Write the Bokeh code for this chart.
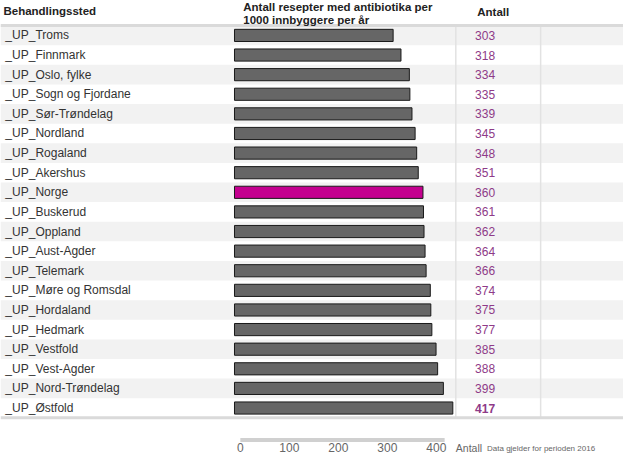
from bokeh.plotting import figure
from bokeh.models import Range1d, ColumnDataSource
from bokeh.core.properties import value
from bokeh.embed import file_html
from bokeh.resources import INLINE

# ---- data ----
categories = ["_UP_Troms", "_UP_Finnmark", "_UP_Oslo, fylke", "_UP_Sogn og Fjordane",
              "_UP_Sør-Trøndelag", "_UP_Nordland", "_UP_Rogaland", "_UP_Akershus",
              "_UP_Norge", "_UP_Buskerud", "_UP_Oppland", "_UP_Aust-Agder",
              "_UP_Telemark", "_UP_Møre og Romsdal", "_UP_Hordaland", "_UP_Hedmark",
              "_UP_Vestfold", "_UP_Vest-Agder", "_UP_Nord-Trøndelag", "_UP_Østfold"]
values = [303, 318, 334, 335, 339, 345, 348, 351, 360, 361,
          362, 364, 366, 374, 375, 377, 385, 388, 399, 417]
highlight = "_UP_Norge"
axis_ticks = [0, 100, 200, 300, 400]
axis_end = 417
col_header = "Behandlingssted"
bar_header = ["Antall resepter med antibiotika per", "1000 innbyggere per år"]
val_header = "Antall"
footer_unit = "Antall"
footer_note = "Data gjelder for perioden  2016"

# ---- layout helpers (reference pixel -> data units) ----
BAR0, BSCALE = 240.0, 0.537      # bar origin and px per unit (reference px)
AX0, ASCALE = 246.0, 0.5025      # axis origin and px per unit
ROW0, ROWH = 36.15, 20.3         # first row centre and row height (reference px)
def xd(px):
    return (px - BAR0) / BSCALE
def yd(py):
    return (py - ROW0) / ROWH

W, H = 623, 455
FONT = "Liberation Sans"

p = figure(width=W, height=H, output_backend="svg", toolbar_location=None,
           x_range=Range1d(xd(0), xd(639)), y_range=Range1d(yd(471), yd(0)),
           min_border=0)
p.xaxis.visible = False
p.yaxis.visible = False
p.grid.visible = False
p.outline_line_color = None
p.background_fill_color = "white"
p.border_fill_color = "white"

n = len(categories)
rows = list(range(n))

# row backgrounds (alternating)
bg_rows = [i for i in rows if i % 2 == 0]
p.hbar(y=bg_rows, left=xd(0), right=xd(639), height=1.0, fill_color="#f2f2f2", line_color=None)

# column separators
p.segment(x0=[xd(467), xd(554)], x1=[xd(467), xd(554)], y0=[-0.5, -0.5], y1=[n - 0.5, n - 0.5],
          line_color="#e2e2e2", line_width=1.5)
# header / bottom rules
p.segment(x0=[xd(0), xd(0)], x1=[xd(639), xd(639)], y0=[-0.5, n - 0.5], y1=[-0.5, n - 0.5],
          line_color="#dadada", line_width=3)

# bars
vmax = max(values)
fills = ["#c4008f" if c == highlight else "#666666" for c in categories]
styles = ["bold" if v == vmax else "normal" for v in values]
src = ColumnDataSource(dict(y=rows, v=values, fill=fills, cat=categories, sty=styles,
                            lab=[str(v) for v in values]))
p.hbar(y="y", left=0, right="v", height=0.62, fill_color="fill", line_color="#1a1a1a",
       line_width=1, source=src)

# category labels
p.text(x=xd(5), y="y", text="cat", source=src, text_font=value(FONT), text_font_size="12px",
       text_color="#333333", text_baseline="middle", text_align="left")
# value labels
p.text(x=xd(497), y="y", text="lab", source=src, text_font=value(FONT), text_font_size="12px",
       text_font_style="sty", text_color="#8e3a88", text_baseline="middle", text_align="center")

# headers
p.text(x=[xd(3)], y=[yd(11)], text=[col_header], text_font=value(FONT), text_font_size="11.5px",
       text_font_style="bold", text_color="#222222", text_baseline="middle")
p.text(x=[xd(249), xd(249)], y=[yd(7), yd(20.5)], text=bar_header, text_font=value(FONT),
       text_font_size="11.5px", text_font_style="bold", text_color="#222222", text_baseline="middle")
p.text(x=[xd(489)], y=[yd(12)], text=[val_header], text_font=value(FONT), text_font_size="11.5px",
       text_font_style="bold", text_color="#222222", text_baseline="middle")

# axis (drawn through its own range)
p.extra_x_ranges["ax"] = Range1d((0 - AX0) / ASCALE, (639 - AX0) / ASCALE)
p.segment(x0=[0], x1=[axis_end], y0=[yd(455)], y1=[yd(455)], line_color="#d0d0d0",
          line_width=4, x_range_name="ax")
p.text(x=axis_ticks, y=[yd(463)] * len(axis_ticks), text=[str(t) for t in axis_ticks],
       x_range_name="ax", text_font=value(FONT), text_font_size="12px", text_color="#666666",
       text_baseline="middle", text_align="center")

# footer texts
p.text(x=[xd(467)], y=[yd(463)], text=[footer_unit], text_font=value(FONT), text_font_size="10.5px",
       text_color="#666666", text_baseline="middle")
p.text(x=[xd(499)], y=[yd(464)], text=[footer_note], text_font=value(FONT), text_font_size="8px",
       text_color="#666666", text_baseline="middle")

open("out.html", "w").write(file_html(p, INLINE))
